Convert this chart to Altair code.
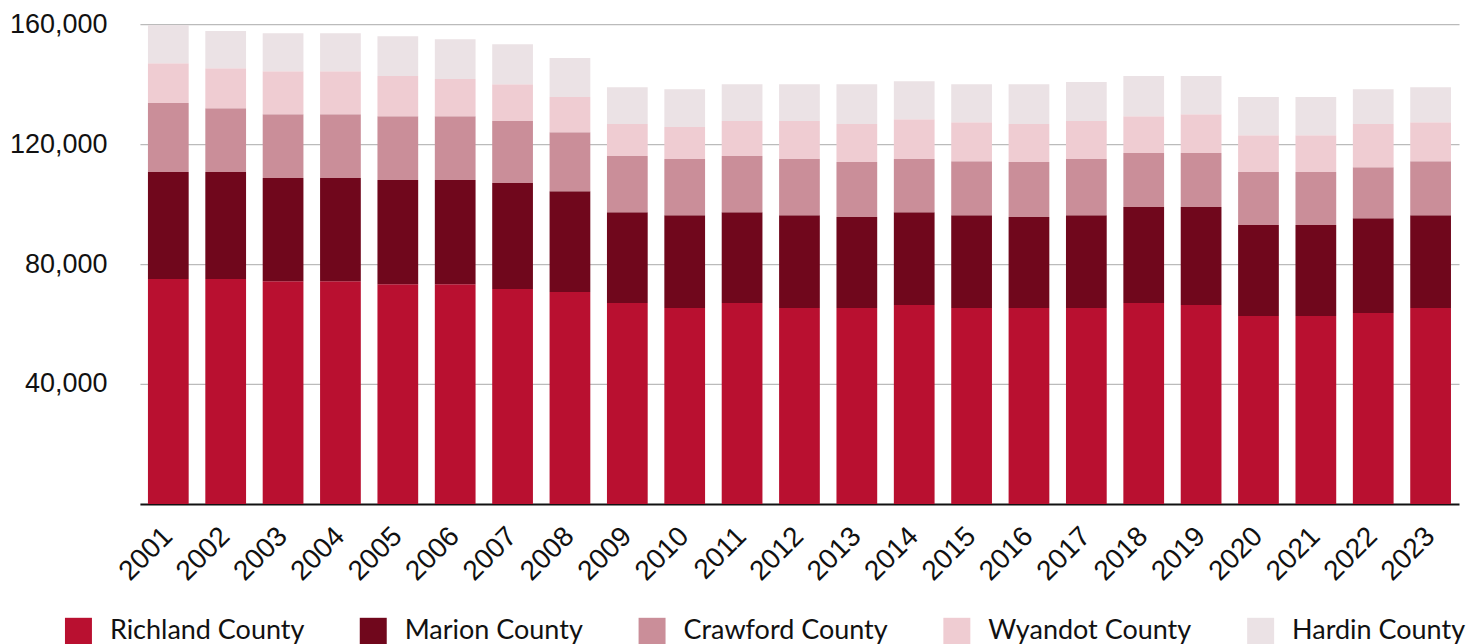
import altair as alt
import pandas as pd

years = [str(y) for y in range(2001, 2024)]
counties = ["Richland County", "Marion County", "Crawford County", "Wyandot County", "Hardin County"]
colors = ["#B91030", "#70071C", "#CA8E99", "#EFCCD2", "#EBE2E5"]

richland = [75000, 75000, 74300, 74300, 73300, 73300, 71700, 70700, 67000, 65300, 67000, 65300,
            65300, 66300, 65300, 65300, 65300, 67000, 66300, 62700, 62700, 63700, 65300]
marion = [35700, 35700, 34400, 34400, 34700, 34700, 35300, 33600, 30300, 31000, 30300, 31000,
          30400, 31000, 31000, 30400, 31000, 32000, 32700, 30300, 30300, 31600, 31000]
crawford = [23000, 21300, 21300, 21300, 21300, 21300, 20700, 19700, 18700, 18700, 18700, 18700,
            18300, 17700, 18000, 18300, 18700, 18000, 18000, 17700, 17700, 17000, 18000]
wyandot = [13300, 13300, 14300, 14300, 13400, 12400, 12300, 11700, 10700, 10700, 11700, 12700,
           12700, 13300, 13000, 12700, 12700, 12300, 13000, 12300, 12300, 14400, 13000]
hardin = [12700, 12400, 12700, 12700, 13300, 13300, 13300, 13000, 12300, 12600, 12300, 12300,
          13300, 12700, 12700, 13300, 13000, 13400, 12700, 12700, 12700, 11600, 11700]

series = [richland, marion, crawford, wyandot, hardin]
rows = []
for ci, (name, vals) in enumerate(zip(counties, series)):
    for y, v in zip(years, vals):
        rows.append({"year": y, "county": name, "value": v, "idx": ci})
df = pd.DataFrame(rows)

AXFONT = "Liberation Sans"
LEGFONT = "Lato"

chart = alt.Chart(df).mark_bar().encode(
    x=alt.X("year:N", sort=years, title=None,
            scale=alt.Scale(paddingInner=0.29, paddingOuter=0.14),
            axis=alt.Axis(labelAngle=-45, labelFontSize=28, labelFont=AXFONT, labelColor="#111",
                          labelAlign="right", labelBaseline="middle",
                          ticks=False, domainColor="#111", domainWidth=2, labelPadding=28,
                          grid=False)),
    y=alt.Y("value:Q", stack="zero", title=None,
            scale=alt.Scale(domain=[0, 160000], nice=False),
            axis=alt.Axis(values=[40000, 80000, 120000, 160000], format=",.0f",
                          labelFontSize=27, labelFont=AXFONT, labelColor="#111",
                          ticks=False, domain=False, labelPadding=33,
                          gridColor="#BBBBBB", gridWidth=1.2)),
    color=alt.Color("county:N", sort=counties,
                    scale=alt.Scale(domain=counties, range=colors),
                    legend=alt.Legend(title=None, orient="none", direction="horizontal",
                                      legendX=-75, legendY=594, columns=5, columnPadding=55,
                                      symbolType="square", symbolSize=729, symbolStrokeWidth=0,
                                      labelFontSize=27, labelFont=LEGFONT, labelColor="#111",
                                      labelOffset=18, labelLimit=400)),
    order=alt.Order("idx:Q", sort="ascending"),
).properties(
    width=1320, height=480,
    autosize=alt.AutoSizeParams(type="none"),
    padding={"left": 132, "top": 16, "right": 12, "bottom": 140},
).configure_view(stroke=None)

chart.save("out.html", embed_options={"renderer": "svg", "actions": False})
